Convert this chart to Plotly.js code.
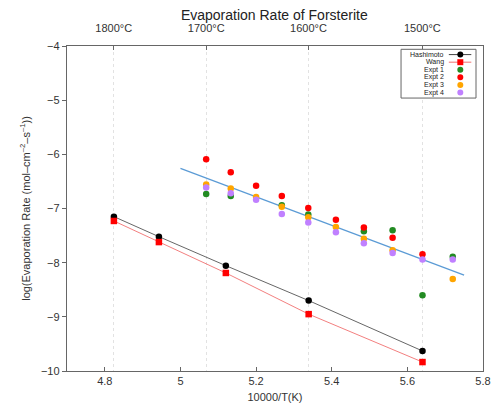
<!DOCTYPE html>
<html>
<head>
<meta charset="utf-8">
<script src="https://cdn.plot.ly/plotly-3.0.1.min.js"></script>
<style>html,body{margin:0;padding:0;background:#fff;}#chart{width:492px;height:404px;}</style>
</head>
<body>
<div id="chart"></div>
<script>
// Literature data (10000/T(K), log rate)
const litX = [4.824, 4.943, 5.120, 5.339, 5.640];
const hashimotoY = [-7.15, -7.52, -8.055, -8.70, -9.63];
const wangY = [-7.23, -7.62, -8.19, -8.95, -9.835];

// Experimental data
const exptX = [5.068, 5.133, 5.200, 5.268, 5.338, 5.411, 5.485, 5.561, 5.640, 5.720];
const expt1Y = [-6.73, -6.77, null, -6.94, -7.11, null, -7.42, -7.40, -8.60, -7.89];
const expt2Y = [-6.09, -6.33, -6.58, -6.77, -6.99, -7.21, -7.35, -7.54, -7.845, null];
const expt3Y = [-6.555, -6.63, -6.79, -6.97, -7.16, -7.34, -7.56, -7.77, null, -8.30];
const expt4Y = [-6.61, -6.72, -6.84, -7.10, -7.26, -7.44, -7.64, -7.82, -7.94, -7.94];

// Fit line endpoints
const fitX = [5.0, 5.75];
const fitY = [-6.26, -8.23];

// Series names and top-axis temperatures
const seriesNames = ['Hashimoto', 'Wang', 'Expt 1', 'Expt 2', 'Expt 3', 'Expt 4'];
const seriesColors = ['#000000', '#ff0000', '#228b22', '#ff0000', '#ffa500', '#c080ff'];
const legendLineColors = ['#444444', '#f07070', null, null, null, null];
const legendSymbols = ['circle', 'rect', 'circle', 'circle', 'circle', 'circle'];
const tempLabels = ['1800°C', '1700°C', '1600°C', '1500°C'];
const tempC = [1800, 1700, 1600, 1500];
const tempPos = tempC.map(t => 10000 / (t + 273.15));

const traces = [
  {x: fitX, y: fitY, mode: 'lines', line: {color: '#5b9bd5', width: 1.2}, hoverinfo: 'skip'},
  {x: litX, y: hashimotoY, name: seriesNames[0], mode: 'lines+markers',
   line: {color: '#555555', width: 0.9}, marker: {color: seriesColors[0], size: 6.5, symbol: 'circle'}},
  {x: litX, y: wangY, name: seriesNames[1], mode: 'lines+markers',
   line: {color: '#f07070', width: 0.9}, marker: {color: seriesColors[1], size: 6.5, symbol: 'square'}},
  {x: exptX, y: expt1Y, name: seriesNames[2], mode: 'markers', marker: {color: seriesColors[2], size: 6.5}},
  {x: exptX, y: expt2Y, name: seriesNames[3], mode: 'markers', marker: {color: seriesColors[3], size: 6.5}},
  {x: exptX, y: expt3Y, name: seriesNames[4], mode: 'markers', marker: {color: seriesColors[4], size: 6.5}},
  {x: exptX, y: expt4Y, name: seriesNames[5], mode: 'markers', marker: {color: seriesColors[5], size: 6.5}},
  {x: [tempPos[0]], y: [null], xaxis: 'x2', hoverinfo: 'skip', mode: 'markers'}
];

// Compact legend box (gnuplot-style: text right-aligned, sample on the right)
const plotL = 66.5, plotW = 416.2, plotT = 45.7, plotH = 325.3;
const px = v => (v - plotL) / plotW;
const py = v => 1 - (v - plotT) / plotH;
const rowY = [54.3, 61.9, 69.5, 77.1, 84.7, 92.3];
const annotations = [];
const shapes = [
  {type: 'rect', xref: 'paper', yref: 'paper', x0: px(400.7), x1: px(475.7), y0: py(97.8), y1: py(49),
   line: {color: '#666', width: 1}, fillcolor: '#ffffff', layer: 'above'}
];
seriesNames.forEach((n, i) => {
  annotations.push({xref: 'paper', yref: 'paper', x: px(444.5), y: py(rowY[i]), xanchor: 'right', yanchor: 'middle',
    text: n, showarrow: false, borderpad: 0, font: {size: 7, color: '#222'}});
  if (legendLineColors[i]) {
    shapes.push({type: 'line', xref: 'paper', yref: 'paper', x0: px(448.5), x1: px(471), y0: py(rowY[i]), y1: py(rowY[i]),
      line: {color: legendLineColors[i], width: 1}, layer: 'above'});
  }
  shapes.push({type: legendSymbols[i], xref: 'paper', yref: 'paper', xsizemode: 'pixel', ysizemode: 'pixel',
    xanchor: px(460), yanchor: py(rowY[i]), x0: -3, x1: 3, y0: -3, y1: 3,
    fillcolor: seriesColors[i], line: {width: 0}, layer: 'above'});
});

const layout = {
  width: 492, height: 404,
  margin: {l: 66.5, r: 9.3, t: 45.7, b: 33},
  paper_bgcolor: '#ffffff', plot_bgcolor: '#ffffff',
  font: {family: 'Liberation Sans, Arial, sans-serif', size: 11, color: '#333'},
  title: {text: 'Evaporation Rate of Forsterite', font: {size: 14, color: '#222'},
          x: 0.5575, xanchor: 'center', y: 0.962, yanchor: 'middle'},
  xaxis: {range: [4.7, 5.8], tickvals: [4.8, 5, 5.2, 5.4, 5.6, 5.8], ticktext: ['4.8','5','5.2','5.4','5.6','5.8'],
          ticks: 'inside', ticklen: 4, tickcolor: '#666', showgrid: false, zeroline: false,
          showline: true, linecolor: '#666', linewidth: 1.2, mirror: false,
          title: {text: '10000/T(K)', font: {size: 11}, standoff: 6}},
  xaxis2: {overlaying: 'x', side: 'top', range: [4.7, 5.8], tickvals: tempPos, ticktext: tempLabels,
           ticks: 'inside', ticklen: 4, tickcolor: '#666', showgrid: true, gridcolor: '#e2e2e2', griddash: 'dot',
           gridwidth: 1, zeroline: false, showline: true, linecolor: '#666', linewidth: 1.2, ticklabelstandoff: 8},
  yaxis: {range: [-10, -4], dtick: 1, ticks: 'outside', ticklen: 4, tickcolor: '#666', showgrid: false,
          zeroline: false, showline: true, linecolor: '#666', linewidth: 1.2, mirror: true,
          title: {text: 'log(Evaporation Rate (mol–cm<sup>–2</sup>–s<sup>–1</sup>))', font: {size: 11}, standoff: 8}},
  showlegend: false,
  shapes: shapes,
  annotations: annotations
};

Plotly.newPlot('chart', traces, layout, {staticPlot: true, displayModeBar: false});
</script>
</body>
</html>
